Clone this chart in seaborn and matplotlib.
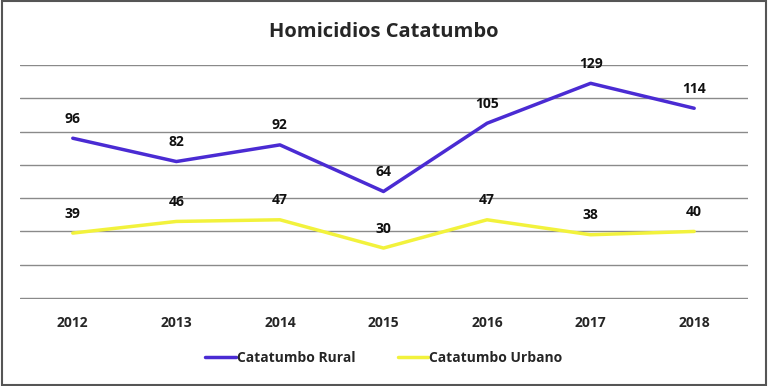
import pandas as pd
import matplotlib.pyplot as plt
import seaborn as sns
from matplotlib.patches import Rectangle

# data
years = ['2012', '2013', '2014', '2015', '2016', '2017', '2018']
rural = [96, 82, 92, 64, 105, 129, 114]
urbano = [39, 46, 47, 30, 47, 38, 40]
series_names = ['Catatumbo Rural', 'Catatumbo Urbano']
colors = ['#4a2bd3', '#f2f23c']

df = pd.DataFrame({
    'year': years * 2,
    'value': rural + urbano,
    'serie': [series_names[0]] * len(years) + [series_names[1]] * len(years),
})
df['x'] = list(range(len(years))) * 2

sns.set_style('white')
plt.rcParams['font.family'] = ['Open Sans', 'DejaVu Sans']

fig = plt.figure(figsize=(7.68, 3.86), dpi=100)
ax = fig.add_axes([0.026, 0.2254, 0.948, 0.6062])

sns.lineplot(data=df, x='x', y='value', hue='serie', palette=colors,
             linewidth=2.5, ax=ax, legend=True)

# data labels
for vals in (rural, urbano):
    for i, v in enumerate(vals):
        ax.annotate(str(v), (i, v), xytext=(0, 9), textcoords='offset points',
                    ha='center', va='bottom', fontsize=10, fontweight='bold',
                    color='#111111')

ax.set_xlim(-0.51, 6.52)
ax.set_ylim(-0.6, 140)
ax.set_yticks(range(0, 141, 20))
ax.set_yticklabels([])
ax.yaxis.grid(True, color='#8a8a8a', linewidth=1)
ax.xaxis.grid(False)
ax.set_xticks(range(len(years)))
ax.set_xticklabels(years, fontsize=10, fontweight='bold')
ax.tick_params(axis='x', length=0, pad=12)
ax.tick_params(axis='y', length=0)
ax.set_xlabel('')
ax.set_ylabel('')
for s in ax.spines.values():
    s.set_visible(False)

ax.legend(loc='upper center', bbox_to_anchor=(0.5, -0.17), ncol=2, frameon=False,
          prop={'size': 10, 'weight': 'bold'}, handlelength=2.2, handletextpad=0.1,
          columnspacing=3)

fig.text(0.5, 0.917, 'Homicidios Catatumbo', ha='center', va='center',
         fontsize=14.5, fontweight='bold')

# border around the image
fig.patches.append(Rectangle((0.002, 0.003), 0.996, 0.994, transform=fig.transFigure,
                             fill=False, edgecolor='#555555', linewidth=1.5))

fig.savefig('out.png', dpi=100)
